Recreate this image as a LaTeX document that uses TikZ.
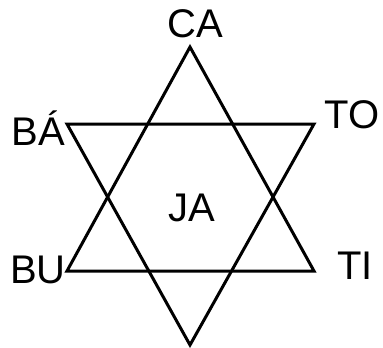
\documentclass[tikz,border=0pt]{standalone}
\usepackage{fontspec}
\setmainfont{Liberation Sans}
\usetikzlibrary{positioning}

\begin{document}
\begin{tikzpicture}[x=1pt,y=-1pt,every node/.style={font=\fontsize{40}{44}\selectfont,inner sep=0pt}]
\useasboundingbox (0,0) rectangle (383,348);
\coordinate (t) at (190,47);
\coordinate (bl) at (67,271);
\coordinate (br) at (314,271);
\coordinate (tl) at (67,124);
\coordinate (tr) at (314,124);
\coordinate (b) at (190,345);
\draw[line width=3pt,line join=miter] (t)--(bl)--(br)--cycle;
\draw[line width=3pt,line join=miter] (tl)--(tr)--(b)--cycle;
\node (ca) at (195,24) {CA};
\node (ba) at (38,128) {BÁ};
\node (to) at (352,115) {TO};
\node (ja) at (192,208) {JA};
\node (bu) at (38,270) {BU};
\node (ti) at (355,266) {TI};
\end{tikzpicture}
\end{document}
